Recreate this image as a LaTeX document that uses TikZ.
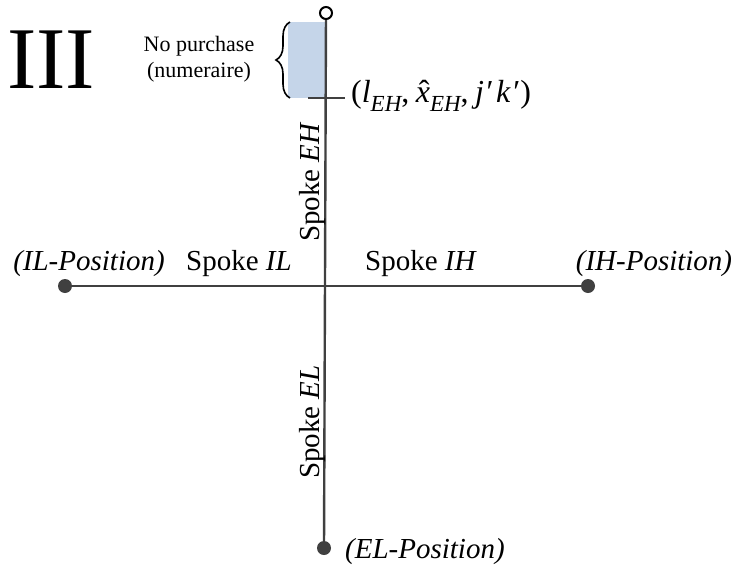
\documentclass[tikz,border=0pt]{standalone}
\usepackage{fontspec}
\setmainfont{Liberation Serif}
\usetikzlibrary{decorations.pathreplacing}
\definecolor{axis}{RGB}{64,64,64}
\definecolor{paleblue}{RGB}{197,213,233}
\newcommand{\subit}[1]{\raisebox{-0.28em}{\fontsize{23}{23}\selectfont\itshape #1}}
\newcommand{\xhat}{{\ooalign{\textit{x}\cr\hidewidth\kern0.08em ˆ\hidewidth\cr}}}
\begin{document}
\begin{tikzpicture}[x=1pt,y=-1pt,
  spoke/.style={draw=axis,line width=2.4pt},
  enddot/.style={circle,fill=axis,inner sep=0pt,minimum size=14pt},
  lbl/.style={font=\fontsize{29}{32}\selectfont,inner sep=0pt},
  poslbl/.style={lbl,font=\fontsize{29}{32}\selectfont\itshape}]
\useasboundingbox (0,0) rectangle (737,576);
% shaded region
\fill[paleblue] (288,22) rectangle (325,98);
% nodes
\coordinate (C) at (325,286);
\node[enddot] (IL) at (65,286) {};
\node[enddot] (IH) at (588,286) {};
\node[enddot] (EL) at (324,548) {};
\node[circle,draw=black,line width=2pt,inner sep=0pt,minimum size=12pt,fill=white] (top) at (326,13) {};
% spokes
\draw[spoke] (IL) -- (IH);
\draw[spoke] (top) -- (EL);
% tick
\coordinate (tl) at (308,98);
\coordinate (tr) at (345,98);
\draw[axis,line width=2pt] (tl) -- (tr);
% brace
\coordinate (bt) at (290,22);
\coordinate (bb) at (290,98);
\draw[black,line width=1.6pt,decorate,decoration={brace,amplitude=14pt,aspect=0.5}] (bb) -- (bt);
% labels
\node[font=\fontsize{88}{88}\selectfont,inner sep=0pt] (III) at (51,60) {III};
\node[font=\fontsize{22}{26}\selectfont,align=center,inner sep=0pt] (np) at (199,59) {No purchase\\(numeraire)};
\node[font=\fontsize{32}{36}\selectfont,inner sep=0pt,anchor=west] (pt) at (351,96) {(\textit{l}\subit{EH},\kern0.2em\xhat\subit{EH},\kern0.2em\textit{j}\kern0.08em′\kern0.08em\textit{k}\kern0.08em′)};
\node[poslbl] (ILp) at (89,264) {(IL-Position)};
\node[lbl] (sIL) at (239,264) {Spoke \textit{IL}};
\node[lbl] (sIH) at (421,264) {Spoke \textit{IH}};
\node[poslbl] (IHp) at (654,264) {(IH-Position)};
\node[poslbl,anchor=west] (ELp) at (345,552) {(EL-Position)};
\node[lbl,rotate=90] (sEH) at (313,182) {Spoke \textit{EH}};
\node[lbl,rotate=90] (sEL) at (313,422) {Spoke \textit{EL}};
\end{tikzpicture}
\end{document}
